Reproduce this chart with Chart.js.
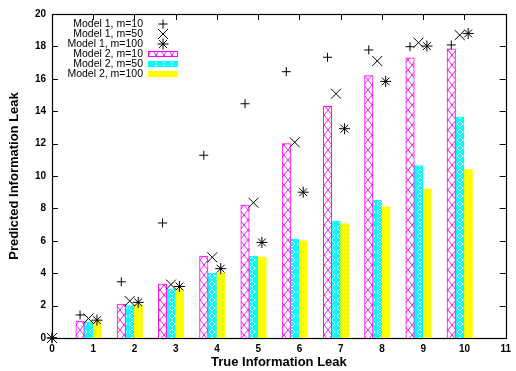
<!DOCTYPE html>
<html>
<head>
<meta charset="utf-8">
<script src="https://cdn.jsdelivr.net/npm/chart.js@4/dist/chart.umd.min.js"></script>
<style>
  body { margin: 0; background: #fff; }
  #wrap { width: 516px; height: 371px; }
</style>
</head>
<body>
<div id="wrap"><canvas id="myChart"></canvas></div>
<script>
// values
const trueLeak = [0, 1, 2, 3, 4, 5, 6, 7, 8, 9, 10];
const xTicks = [0, 1, 2, 3, 4, 5, 6, 7, 8, 9, 10, 11];
const yTicks = [0, 2, 4, 6, 8, 10, 12, 14, 16, 18, 20];
const model1_m10  = [0, 1.42, 3.47, 7.1, 11.28, 14.46, 16.44, 17.33, 17.78, 17.98, 18.09];
const model1_m50  = [0, 1.2, 2.28, 3.3, 4.98, 8.35, 12.08, 15.08, 17.1, 18.23, 18.7];
const model1_m100 = [0, 1.1, 2.2, 3.18, 4.28, 5.9, 9.0, 12.92, 15.84, 18.02, 18.8];
const model2_m10  = [0, 1.05, 2.1, 3.33, 5.06, 8.2, 12.0, 14.3, 16.2, 17.3, 17.85];
const model2_m50  = [0, 1.0, 2.0, 3.04, 4.0, 5.05, 6.1, 7.2, 8.5, 10.64, 13.65];
const model2_m100 = [0, 1.0, 2.05, 3.0, 4.0, 5.0, 6.0, 7.05, 8.1, 9.2, 10.4];

// histogram cluster shift for each member (in x units)
const shifts = [-0.32, -0.115, 0.09];

function toXY(vals, shift) {
  return vals.map((v, i) => ({ x: trueLeak[i] === 0 ? 0 : trueLeak[i] + shift, y: v }));
}

function makePattern(kind) {
  const c = document.createElement('canvas');
  const g = c.getContext('2d');
  if (kind === 'magenta') {
    c.width = 8; c.height = 10;
    g.fillStyle = '#fff'; g.fillRect(0, 0, 8, 10);
    g.strokeStyle = '#ff00ff'; g.lineWidth = 0.9;
    g.beginPath();
    g.moveTo(0, 0); g.lineTo(8, 10);
    g.moveTo(8, 0); g.lineTo(0, 10);
    g.stroke();
  } else {
    c.width = 8; c.height = 8;
    g.fillStyle = '#00ffff'; g.fillRect(0, 0, 8, 8);
    g.strokeStyle = '#fff'; g.lineWidth = 1;
    g.beginPath();
    g.moveTo(4, 1); g.lineTo(7, 4); g.lineTo(4, 7); g.lineTo(1, 4); g.closePath();
    g.stroke();
  }
  return g.createPattern(c, 'repeat');
}

const magentaFill = makePattern('magenta');
const cyanFill = makePattern('cyan');

// gnuplot style frame with inward ticks
const framePlugin = {
  id: 'frame',
  beforeDatasetsDraw(chart) {
    const { ctx, chartArea: a, scales } = chart;
    ctx.save();
    ctx.strokeStyle = '#000';
    ctx.lineWidth = 1;
    ctx.beginPath();
    yTicks.forEach(t => {
      const y = Math.round(scales.y.getPixelForValue(t)) + 0.5;
      ctx.moveTo(a.left, y); ctx.lineTo(a.left + 6, y);
      ctx.moveTo(a.right, y); ctx.lineTo(a.right - 6, y);
    });
    xTicks.forEach(t => {
      const x = Math.round(scales.x.getPixelForValue(t)) + 0.5;
      ctx.moveTo(x, a.bottom); ctx.lineTo(x, a.bottom - 6);
      ctx.moveTo(x, a.top); ctx.lineTo(x, a.top + 6);
    });
    ctx.stroke();
    ctx.lineWidth = 1.2;
    ctx.strokeRect(Math.round(a.left) + 0.5, Math.round(a.top) + 0.5,
      Math.round(a.right - a.left), Math.round(a.bottom - a.top));
    ctx.restore();
  }
};

// key at the top left: text right aligned, sample on the right
const keyPlugin = {
  id: 'key',
  afterDraw(chart) {
    const ctx = chart.ctx;
    ctx.save();
    ctx.font = '10.5px "Liberation Sans", Arial, sans-serif';
    ctx.textAlign = 'right';
    ctx.textBaseline = 'middle';
    chart.data.datasets.forEach((ds, i) => {
      const y = 24 + i * 10;
      ctx.fillStyle = '#000';
      ctx.fillText(ds.label, 143, y);
      if (ds.type === 'line') {
        ctx.strokeStyle = '#000';
        ctx.fillStyle = '#000';
        ctx.lineWidth = 1;
        Chart.helpers.drawPoint(ctx, { pointStyle: ds.pointStyle, radius: ds.pointRadius, borderWidth: 1, rotation: 0 }, 163, y);
      } else {
        ctx.fillStyle = ds.backgroundColor;
        ctx.fillRect(148, y - 3, 30, 6);
        if (ds.borderWidth) {
          ctx.strokeStyle = ds.borderColor;
          ctx.lineWidth = 1;
          ctx.strokeRect(148.5, y - 2.5, 29, 5);
        }
      }
    });
    ctx.restore();
  }
};

const ctx = document.getElementById('myChart').getContext('2d');
const myChart = new Chart(ctx, {
  type: 'bar',
  data: {
    datasets: [
      { type: 'line', label: 'Model 1, m=10', data: toXY(model1_m10, shifts[0]), showLine: false, clip: false,
        pointStyle: 'cross', pointRadius: 4.5, borderColor: '#000', backgroundColor: '#000', pointBorderWidth: 1 },
      { type: 'line', label: 'Model 1, m=50', data: toXY(model1_m50, shifts[1]), showLine: false, clip: false,
        pointStyle: 'crossRot', pointRadius: 7, borderColor: '#000', backgroundColor: '#000', pointBorderWidth: 1 },
      { type: 'line', label: 'Model 1, m=100', data: toXY(model1_m100, shifts[2]), showLine: false, clip: false,
        pointStyle: 'star', pointRadius: 5.5, borderColor: '#000', backgroundColor: '#000', pointBorderWidth: 1 },
      { label: 'Model 2, m=10', data: toXY(model2_m10, shifts[0]), backgroundColor: magentaFill,
        borderColor: '#ff00ff', borderWidth: 1, borderSkipped: 'bottom', barThickness: 8.5, grouped: false },
      { label: 'Model 2, m=50', data: toXY(model2_m50, shifts[1]), backgroundColor: cyanFill,
        borderColor: '#00ffff', borderWidth: 1, borderSkipped: 'bottom', barThickness: 8.5, grouped: false },
      { label: 'Model 2, m=100', data: toXY(model2_m100, shifts[2]), backgroundColor: '#ffff00',
        borderWidth: 0, barThickness: 8.5, grouped: false }
    ]
  },
  options: {
    responsive: true,
    maintainAspectRatio: false,
    animation: false,
    layout: { padding: { left: 0, top: 14, right: 5, bottom: 0 } },
    plugins: { legend: { display: false }, tooltip: { enabled: false } },
    scales: {
      x: {
        type: 'linear', min: 0, max: 11, offset: false,
        afterBuildTicks: s => { s.ticks = xTicks.map(v => ({ value: v })); },
        afterFit: s => { s.height = 33; },
        grid: { display: false, drawTicks: false },
        border: { display: false },
        ticks: { padding: 5, color: '#000', font: { family: '"Liberation Sans", Arial, sans-serif', size: 10, weight: 'bold' } },
        title: { display: true, text: 'True Information Leak', color: '#000', padding: { top: 0, bottom: 1 },
          font: { family: '"Liberation Sans", Arial, sans-serif', size: 13, weight: 'bold' } }
      },
      y: {
        min: 0, max: 20,
        afterBuildTicks: s => { s.ticks = yTicks.map(v => ({ value: v })); },
        afterFit: s => { s.width = 52; },
        grid: { display: false, drawTicks: false },
        border: { display: false },
        ticks: { padding: 6, color: '#000', font: { family: '"Liberation Sans", Arial, sans-serif', size: 10, weight: 'bold' } },
        title: { display: true, text: 'Predicted Information Leak', color: '#000', padding: { top: 7, bottom: 0 },
          font: { family: '"Liberation Sans", Arial, sans-serif', size: 13, weight: 'bold' } }
      }
    }
  },
  plugins: [framePlugin, keyPlugin]
});
</script>
</body>
</html>
